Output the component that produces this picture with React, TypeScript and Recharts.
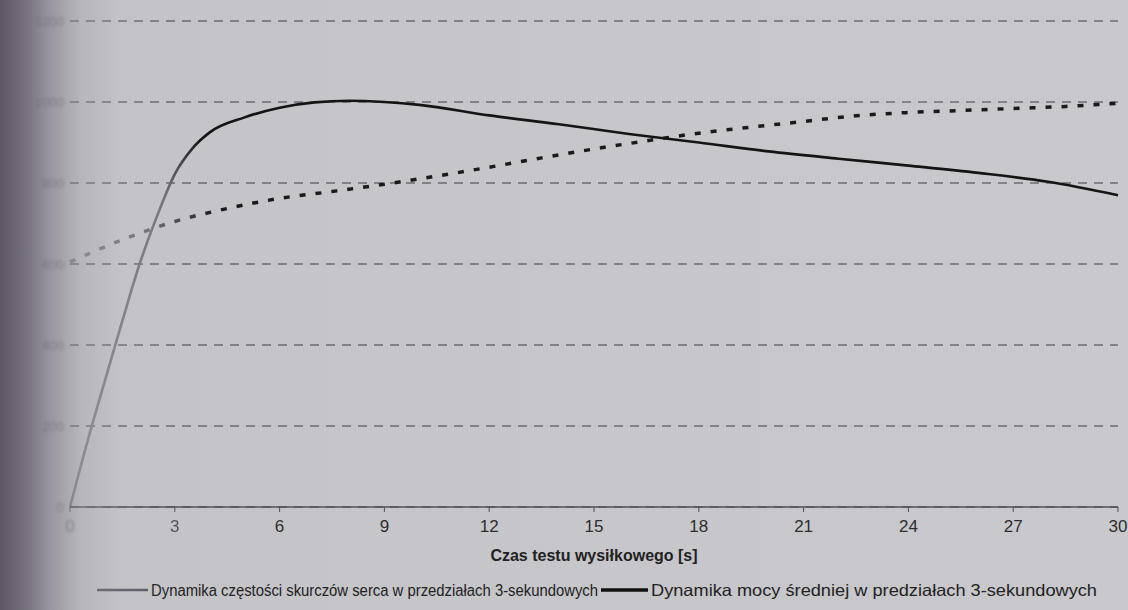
import React from 'react';
import { LineChart, Line, XAxis, YAxis, CartesianGrid, Legend } from 'recharts';

const xTicks = [0, 3, 6, 9, 12, 15, 18, 21, 24, 27, 30];
const yTicks = [0, 200, 400, 600, 800, 1000, 1200];

const powerTime = [0, 0.5, 1, 1.5, 2, 2.5, 3, 3.5, 4, 5, 6, 7, 8, 9, 10, 12, 14, 16, 18, 20, 22, 24, 26, 28, 30];
const powerValues = [0, 162, 312, 460, 602, 720, 822, 885, 925, 962, 986, 999, 1003, 1000, 993, 967, 945, 921, 900, 878, 860, 843, 825, 803, 770];

const heartTime = [0, 1.5, 3, 4.5, 6, 7.5, 9, 10.5, 12, 13.5, 15, 16.5, 18, 19.5, 21, 22.5, 24, 25.5, 27, 28.5, 30];
const heartValues = [605, 660, 705, 737, 762, 779, 797, 817, 839, 862, 884, 904, 923, 938, 952, 966, 974, 979, 984, 989, 997];

const heartLabel = 'Dynamika częstości skurczów serca w przedziałach 3-sekundowych';
const powerLabel = 'Dynamika mocy średniej w predziałach 3-sekundowych';
const xAxisTitle = 'Czas testu wysiłkowego [s]';

const powerData = powerTime.map((t, i) => ({ t, power: powerValues[i] }));
const heartData = heartTime.map((t, i) => ({ t, heart: heartValues[i] }));

const FONT = "Arial, 'Liberation Sans', sans-serif";

const XTick = (props: any) => {
  const { x, y, payload } = props;
  const v = payload.value;
  const faint = v === 0;
  const semi = v === 3;
  return (
    <text
      x={x}
      y={y}
      dy="0.71em"
      textAnchor="middle"
      fontSize={17}
      fontFamily={FONT}
      fill={faint ? '#7c7982' : semi ? '#56545a' : '#2e2e2e'}
      style={faint ? { filter: 'blur(1.4px)' } : semi ? { filter: 'blur(0.5px)' } : undefined}
    >
      {v}
    </text>
  );
};

const renderLegend = () => (
  <svg width={1128} height={43} style={{ display: 'block' }}>
    <line x1={97} x2={148} y1={23} y2={23} stroke="#5a5860" strokeWidth={2.5} />
    <text x={151} y={28.5} fontSize={16} fontFamily={FONT} textLength={447} lengthAdjust="spacingAndGlyphs" fill="#222">
      {heartLabel}
    </text>
    <line x1={601} x2={648} y1={23} y2={23} stroke="#111" strokeWidth={3.5} />
    <text x={651} y={28.5} fontSize={16.5} fontFamily={FONT} textLength={446} lengthAdjust="spacingAndGlyphs" fill="#222">
      {powerLabel}
    </text>
  </svg>
);

export default function App() {
  return (
    <div
      style={{
        position: 'absolute',
        left: 0,
        top: 0,
        width: 1128,
        height: 610,
        overflow: 'hidden',
        background: 'linear-gradient(to right, #c3c2c7 0px, #c6c5ca 400px, #c9c8cc 1128px)',
        fontFamily: FONT,
      }}
    >
      <LineChart width={1128} height={610} margin={{ top: 21, right: 10, left: 0, bottom: 0 }}>
        <defs>
          <linearGradient id="powerGrad" x1="0" y1="0" x2="1" y2="0">
            <stop offset="0" stopColor="#85838b" />
            <stop offset="0.09" stopColor="#75737b" />
            <stop offset="0.125" stopColor="#141414" />
            <stop offset="1" stopColor="#141414" />
          </linearGradient>
          <linearGradient id="heartGrad" x1="0" y1="0" x2="1" y2="0">
            <stop offset="0" stopColor="#85838b" />
            <stop offset="0.08" stopColor="#6e6c74" />
            <stop offset="0.14" stopColor="#1a1a1a" />
            <stop offset="1" stopColor="#1a1a1a" />
          </linearGradient>
        </defs>
        <CartesianGrid vertical={false} stroke="#3e3d42" strokeDasharray="9 7" strokeWidth={1} />
        <XAxis
          dataKey="t"
          type="number"
          domain={[0, 30]}
          ticks={xTicks}
          interval={0}
          height={60}
          axisLine={{ stroke: '#505055', strokeWidth: 1.5 }}
          tickLine={{ stroke: '#505055' }}
          tickSize={5}
          tickMargin={8}
          tick={<XTick />}
          label={{
            value: xAxisTitle,
            position: 'insideBottom',
            offset: 6,
            style: { fontWeight: 'bold', fontSize: 16, fill: '#222', fontFamily: FONT },
          }}
        />
        <YAxis
          type="number"
          domain={[0, 1200]}
          ticks={yTicks}
          width={70}
          axisLine={false}
          tickLine={false}
          tickSize={0}
          tickMargin={6}
          tick={{ fontSize: 13, fill: '#7f7c85', fontFamily: FONT, style: { filter: 'blur(1.6px)' } }}
        />
        <Legend verticalAlign="bottom" height={43} content={renderLegend} wrapperStyle={{ left: 0, width: 1128, margin: 0, padding: 0 }} />
        <Line
          data={heartData}
          dataKey="heart"
          name={heartLabel}
          type="monotone"
          stroke="url(#heartGrad)"
          strokeWidth={3.5}
          strokeDasharray="6 10"
          dot={false}
          activeDot={false}
          isAnimationActive={false}
        />
        <Line
          data={powerData}
          dataKey="power"
          name={powerLabel}
          type="monotone"
          stroke="url(#powerGrad)"
          strokeWidth={2.6}
          dot={false}
          activeDot={false}
          isAnimationActive={false}
        />
      </LineChart>
      <div
        style={{
          position: 'absolute',
          left: 0,
          top: 0,
          width: 180,
          height: 610,
          pointerEvents: 'none',
          background:
            'linear-gradient(to right, rgba(88,80,96,0.95) 0px, rgba(100,94,108,0.82) 25px, rgba(125,120,132,0.6) 50px, rgba(160,157,166,0.35) 80px, rgba(190,188,194,0.12) 120px, rgba(198,197,202,0) 170px)',
        }}
      />
    </div>
  );
}
